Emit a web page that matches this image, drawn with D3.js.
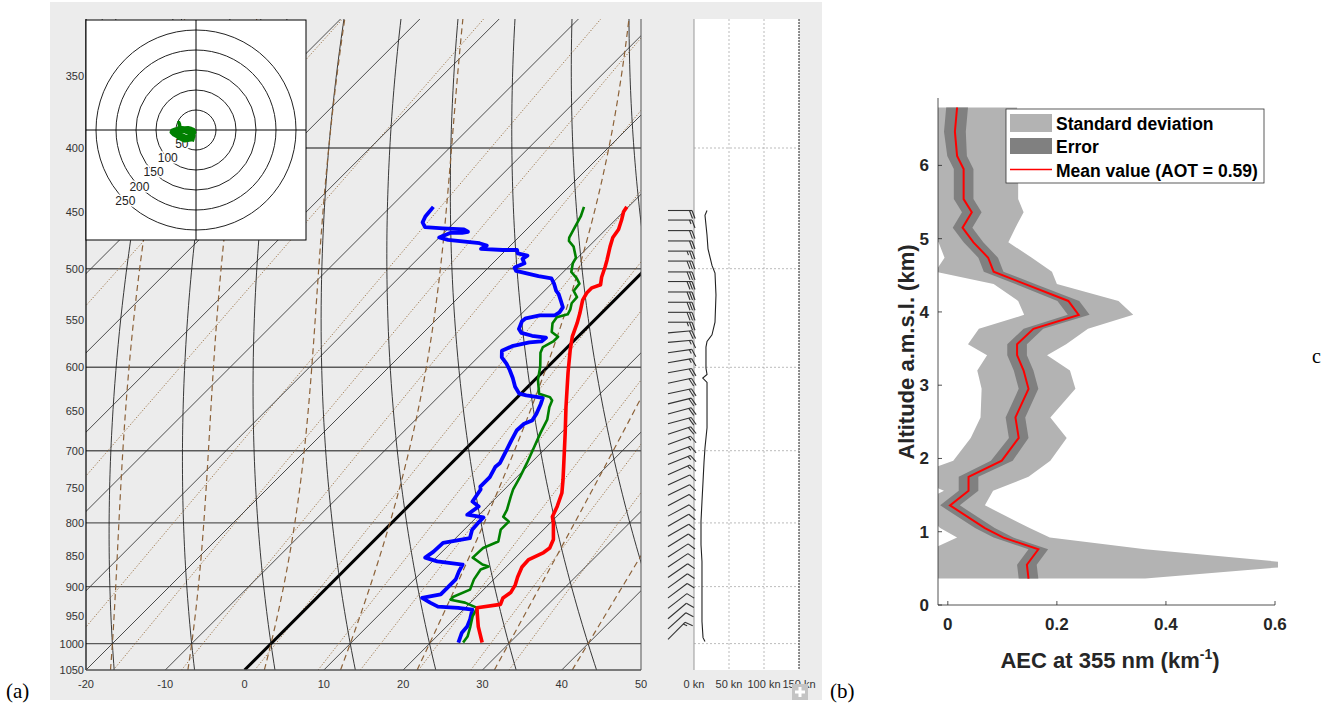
<!DOCTYPE html>
<html><head><meta charset="utf-8">
<script src="https://cdn.jsdelivr.net/npm/d3@7"></script>
<style>
body{margin:0;background:#fff;}
svg{display:block;font-family:"Liberation Sans",Arial,sans-serif;}
</style></head>
<body><svg id="c" width="1333" height="709"></svg>
<script>
// ---------------- DATA ----------------
// Skew-T sounding (pressure hPa, temperature degC)
const tempP = [998,969,943,936,930,919,910,897,884,868,856,845,838,825,800,791,776,757,739,721,677,646,606,581,567,553,543,530,523,518,515,508,498,492,480,472,465,457,450,446];
const tempT = [26.5,24.0,22.0,21.5,24.0,23.5,23.8,23.4,22.7,22.0,21.9,22.9,23.1,22.5,20.4,19.5,18.8,17.7,16.2,14.6,10.5,7.4,3.3,0.7,-0.7,-1.8,-2.7,-4.0,-4.4,-4.4,-3.7,-4.5,-5.4,-6.0,-7.3,-8.1,-8.4,-9.2,-10.0,-10.2];

const dewP = [998,980,969,957,939,936,934,927,919,913,902,888,875,864,859,853,844,830,823,810,800,792,788,776,769,752,748,735,721,716,699,687,674,666,662,654,642,635,634,632,630,622,612,603,596,589,582,577,573,572,568,566,563,559,551,548,545,545,542,537,531,524,521,514,509,507,502,499,495,491,488,486,483,483,482,479,477,474,472,468,468,467,465,464,463,459,454,446];
const dewT = [23.5,22.7,22.6,22.1,21.1,19.1,16.4,14.9,13.3,15.2,15.2,15.2,14.6,14.2,10.6,8.6,8.9,9.0,11.8,11.0,10.9,10.9,8.5,8.9,7.5,7.0,6.6,6.6,6.0,6.1,5.3,4.7,4.1,4.2,4.8,4.5,3.8,3.3,2.6,0.9,-0.2,-1.6,-3.0,-4.4,-5.6,-7.0,-7.8,-7.1,-5.4,-4.0,-3.9,-5.9,-7.6,-8.4,-9.0,-8.9,-7.5,-5.6,-5.4,-5.6,-6.6,-7.8,-8.5,-9.7,-10.7,-12.6,-16.1,-16.7,-16.0,-16.8,-16.6,-18.1,-18.6,-20.4,-23.3,-23.0,-24.2,-28.6,-30.0,-29.2,-27.7,-27.1,-27.9,-30.7,-33.1,-34.0,-34.4,-34.6];

const wetP = [998,987,969,951,936,927,922,917,905,888,872,867,864,853,838,828,810,798,791,781,762,752,735,716,699,677,661,646,638,634,630,614,599,584,578,572,567,562,553,547,544,539,533,527,521,514,509,503,495,490,480,475,472,463,454,446];
const wetT = [24.1,23.9,23.0,22.0,21.5,19.3,17.1,17.1,18.3,17.5,17.1,17.7,16.7,14.6,14.7,15.8,14.6,14.6,13.3,12.9,11.7,11.1,10.4,9.5,8.6,7.4,6.6,5.3,4.8,4.1,2.3,0.4,-1.0,-2.7,-3.1,-2.5,-2.5,-3.9,-4.9,-5.1,-4.1,-4.4,-5.0,-5.1,-6.3,-6.5,-7.5,-9.0,-9.9,-10.2,-11.9,-13.2,-13.6,-14.2,-14.8,-15.6];

// Hodograph trace (u, v in hodograph units)
const hodoU = [-4,-10,-16,-24,-32,-40,-48,-56,-62,-60,-52,-44,-36,-28,-20,-12,-6,-3,-8,-16,-24,-32,-40,-48,-56,-60,-54,-46,-42,-41,-43,-40,-34,-26,-18,-10,-5,-7,-14,-22,-30,-38,-46,-54,-58,-50,-42,-34,-26,-18,-10,-6,-12,-20,-28,-36,-44,-50,-44,-36,-28,-20,-12,-6,-10,-18,-26,-34,-42,-50,-56,-48,-40,-32,-24,-16,-8];
const hodoV = [-26,-24,-25,-23,-21,-19,-16,-12,-6,-1,2,4,6,5,6,4,1,-6,-12,-15,-17,-16,-13,-10,-7,-3,0,3,7,14,19,8,2,-2,-4,-8,-14,-20,-23,-25,-22,-19,-15,-11,-6,-3,-1,-2,-5,-9,-13,-18,-24,-26,-27,-24,-20,-14,-8,-4,-1,0,-3,-8,-16,-21,-23,-20,-16,-12,-8,-5,-9,-13,-17,-20,-22];

// Wind speed profile (hPa, kn)
const spdP = [996,989,960,913,859,833,798,769,741,715,696,671,647,617,612,608,601,578,572,565,552,525,504,497,482,470,453,449];
const spdK = [15.7,12.9,11.4,11.4,11.4,10,10,11.4,12.9,14.3,15.7,18.6,18.6,18.6,12.5,18.6,17.1,17.1,18.6,25.7,30,31.4,30,25.7,20,18.6,15.7,18.6];

// Wind barbs (hPa, direction deg, speed kn)
const barbP = [449,457,466,475,484,493,503,512,522,532,542,552,563,573,584,595,606,618,630,642,654,666,679,692,705,718,732,746,760,775,790,805,820,836,852,868,885,902,919,937,955,973,992];
const barbD = [90,90,90,90,90,90,90,90,90,90,90,90,85,85,82,80,80,78,78,76,75,75,72,70,70,68,66,65,64,62,62,60,60,58,57,56,55,54,53,52,50,48,45];
const barbS = [18,16,18,20,25,30,31,31,31,30,30,26,19,17,17,17,18,19,19,19,19,19,18,16,15,14,13,12,11,11,10,10,10,11,11,11,11,11,11,11,11,12,15];

// Axis tick labels
const pLabels = [350,400,450,500,550,600,650,700,750,800,850,900,950,1000,1050];
const isobars = [400,500,600,700,800,900,1000];
const tLabels = [-20,-10,0,10,20,30,40,50];
const spdTicks = [0,50,100,150];
const hodoRings = [50,100,150,200,250];
const mixRatios = [0.01,0.1,0.5,1,2,4,7,10,16,24,32];
const moistThetaW = [-20,-10,0,10,20,30,40];

// Lidar AEC profile (km, km^-1)
const alt  = [0.36,0.55,0.76,0.92,1.05,1.36,1.56,1.75,1.97,2.28,2.56,2.95,3.2,3.41,3.56,3.77,3.96,4.15,4.38,4.55,4.74,4.95,5.15,5.36,5.54,5.95,6.13,6.46,6.79];
const aecMean = [0.148,0.145,0.166,0.102,0.068,0.004,0.038,0.038,0.099,0.130,0.124,0.148,0.139,0.127,0.127,0.157,0.240,0.221,0.142,0.084,0.074,0.047,0.027,0.044,0.029,0.029,0.017,0.013,0.017];
const aecErr = [0.018,0.018,0.018,0.018,0.018,0.018,0.018,0.018,0.02,0.018,0.018,0.018,0.018,0.018,0.018,0.018,0.02,0.02,0.018,0.018,0.018,0.018,0.018,0.018,0.018,0.018,0.018,0.02,0.02];
const aecSd = [0.214,0.52,0.196,0.085,0.082,0.064,0.045,0.11,0.089,0.088,0.064,0.086,0.085,0.055,0.09,0.1,0.1,0.092,0.058,0.107,0.08,0.064,0.097,0.095,0.10,0.10,0.11,0.115,0.11];
const aecXTicks = [0,0.2,0.4,0.6];
const aecYTicks = [0,1,2,3,4,5,6];

// ---------------- DRAW ----------------
const svg = d3.select("#c");

// ===== Panel (a): skew-T =====
svg.append("rect").attr("x",50).attr("y",2).attr("width",772).attr("height",698).attr("fill","#ececec");

const yP = d3.scaleLog().domain([1050,400]).range([670,148]);
const xT = d3.scaleLinear().domain([-20,50]).range([86,641]);
const pTop = yP.invert(19);
const sx = (T,p) => xT(T) + (670 - yP(p));

const defs = svg.append("defs");
defs.append("clipPath").attr("id","skclip").append("rect").attr("x",86).attr("y",19).attr("width",555).attr("height",651);
defs.append("clipPath").attr("id","aclip").append("rect").attr("x",938).attr("y",96).attr("width",340).attr("height",509);

const sk = svg.append("g").attr("clip-path","url(#skclip)");
const lineTP = d3.line().x(d=>sx(d.T,d.p)).y(d=>yP(d.p));
const pSamp = d3.range(0,101).map(i => 1050*Math.pow(pTop/1050, i/100));

sk.selectAll(".isob").data(isobars).join("line")
  .attr("x1",86).attr("x2",641).attr("y1",d=>yP(d)).attr("y2",d=>yP(d))
  .attr("stroke","#5a5a5a").attr("stroke-width",1.4);

const Rd=287.04, cp=1005.7, Lv=2.501e6, eps=0.622;
const es = Tc => 6.112*Math.exp(17.67*Tc/(Tc+243.5));
const tdFromE = e => { const l=Math.log(e/6.112); return 243.5*l/(17.67-l); };
mixRatios.forEach(w=>{
  const pts = pSamp.map(p=>{ const e = (w/1000)*p/(eps + w/1000); return {p, T: tdFromE(e)}; });
  sk.append("path").attr("d",lineTP(pts)).attr("fill","none")
    .attr("stroke","#9c7448").attr("stroke-width",1).attr("stroke-dasharray","1.2,1.8");
});

const isoT = d3.range(-110,51,10);
sk.selectAll(".isot").data(isoT).join("line")
  .attr("x1",d=>sx(d,1050)).attr("y1",670).attr("x2",d=>sx(d,pTop)).attr("y2",19)
  .attr("stroke",d=>d===0?"#000":"#3a3a3a").attr("stroke-width",d=>d===0?3:0.9);

d3.range(-30,101,10).forEach(th=>{
  const thK = th+273.15;
  const pts = pSamp.map(p=>({p, T: thK*Math.pow(p/1000,0.2857)-273.15}));
  sk.append("path").attr("d",lineTP(pts)).attr("fill","none").attr("stroke","#222").attr("stroke-width",0.9);
});

function rsat(Tc,p){const e=es(Tc);return eps*e/(p-e);}
function dTdp(TK,p){const r=rsat(TK-273.15,p);return (Rd*TK+Lv*r)/(p*(cp+Lv*Lv*r*eps/(Rd*TK*TK)));}
function moist(T0){
  const down=[]; let T=T0+273.15, p=1000, h=5;
  while(p<1050){const k1=dTdp(T,p);const k2=dTdp(T+k1*h/2,p+h/2);T+=k2*h;p+=h;down.push({p,T:T-273.15});}
  const pts = down.reverse(); pts.push({p:1000,T:T0});
  T=T0+273.15; p=1000; h=-4;
  while(p>pTop-5){const k1=dTdp(T,p);const k2=dTdp(T+k1*h/2,p+h/2);T+=k2*h;p+=h;pts.push({p,T:T-273.15});}
  return pts;
}
moistThetaW.forEach(t0=>{
  sk.append("path").attr("d",lineTP(moist(t0))).attr("fill","none")
    .attr("stroke","#8c6239").attr("stroke-width",1.2).attr("stroke-dasharray","6,4");
});

const toPts = (P,T) => P.map((p,i)=>({p,T:T[i]}));
sk.append("path").attr("d",lineTP(toPts(dewP,dewT))).attr("fill","none").attr("stroke","#0000ff").attr("stroke-width",3.8).attr("stroke-linejoin","round");
sk.append("path").attr("d",lineTP(toPts(wetP,wetT))).attr("fill","none").attr("stroke","#008000").attr("stroke-width",2.6).attr("stroke-linejoin","round");
sk.append("path").attr("d",lineTP(toPts(tempP,tempT))).attr("fill","none").attr("stroke","#ff0000").attr("stroke-width",3.6).attr("stroke-linejoin","round");

svg.append("line").attr("x1",86).attr("x2",86).attr("y1",19).attr("y2",670).attr("stroke","#000").attr("stroke-width",1.2);
svg.append("line").attr("x1",86).attr("x2",641).attr("y1",670).attr("y2",670).attr("stroke","#555").attr("stroke-width",1.4);
svg.append("line").attr("x1",641).attr("x2",641).attr("y1",19).attr("y2",670).attr("stroke","#555").attr("stroke-width",1);

svg.selectAll(".pl").data(pLabels).join("text")
  .attr("x",84).attr("y",d=>yP(d)+4).attr("text-anchor","end").attr("font-size",11).attr("fill","#333").text(d=>d);
svg.selectAll(".tl").data(tLabels).join("text")
  .attr("x",d=>xT(d)).attr("y",688).attr("text-anchor","middle").attr("font-size",11).attr("fill","#333").text(d=>d);

// hodograph inset
const hc = {x:196,y:130};
const hr = d3.scaleLinear().domain([0,50]).range([0,20]);
svg.append("rect").attr("x",86).attr("y",20).attr("width",220).attr("height",220).attr("fill","#fff").attr("stroke","#000").attr("stroke-width",1);
svg.selectAll(".ring").data(hodoRings).join("circle")
  .attr("cx",hc.x).attr("cy",hc.y).attr("r",d=>hr(d)).attr("fill","none").attr("stroke","#222").attr("stroke-width",1);
svg.append("line").attr("x1",86).attr("x2",306).attr("y1",hc.y).attr("y2",hc.y).attr("stroke","#000");
svg.append("line").attr("x1",hc.x).attr("x2",hc.x).attr("y1",20).attr("y2",240).attr("stroke","#000");
svg.selectAll(".rl").data(hodoRings).join("text")
  .attr("x",d=>hc.x-hr(d)*0.707).attr("y",d=>hc.y+hr(d)*0.707+4).attr("text-anchor","middle")
  .attr("font-size",12).attr("fill","#222").attr("stroke","#fff").attr("stroke-width",3).attr("paint-order","stroke").text(d=>d);
const hodoLine = d3.line().x((d,i)=>hc.x+hr(hodoU[i])).y((d,i)=>hc.y-hr(hodoV[i]));
svg.append("path").attr("d",hodoLine(hodoU)).attr("fill","none").attr("stroke","#008000").attr("stroke-width",3.4).attr("stroke-linejoin","round");

// wind speed panel
const xS = d3.scaleLinear().domain([0,150]).range([694,799]);
svg.append("rect").attr("x",694).attr("y",19).attr("width",105).attr("height",651).attr("fill","#fff");
svg.selectAll(".sg").data([50,100]).join("line").attr("x1",d=>xS(d)).attr("x2",d=>xS(d)).attr("y1",19).attr("y2",670)
  .attr("stroke","#aaa").attr("stroke-width",0.8).attr("stroke-dasharray","2,2");
svg.selectAll(".sh").data(isobars).join("line").attr("x1",694).attr("x2",799).attr("y1",d=>yP(d)).attr("y2",d=>yP(d))
  .attr("stroke","#aaa").attr("stroke-width",0.8).attr("stroke-dasharray","2,2");
svg.append("line").attr("x1",694).attr("x2",694).attr("y1",19).attr("y2",670).attr("stroke","#999").attr("stroke-width",1);
svg.append("line").attr("x1",799).attr("x2",799).attr("y1",19).attr("y2",670).attr("stroke","#222").attr("stroke-width",1).attr("stroke-dasharray","2,1");
svg.append("path").attr("d",d3.line().x((d,i)=>xS(spdK[i])).y(d=>yP(d))(spdP)).attr("fill","none").attr("stroke","#222").attr("stroke-width",1.1);
svg.selectAll(".stl").data(spdTicks).join("text").attr("x",d=>xS(d)).attr("y",688).attr("text-anchor","middle")
  .attr("font-size",11).attr("fill","#333").text(d=>d+" kn");

// wind barbs
const bg = svg.append("g").attr("stroke","#333").attr("stroke-width",1.1).attr("fill","none");
barbP.forEach((p,i)=>{
  const x0=668, y0=yP(p), d=barbD[i]*Math.PI/180, L=24;
  const s=[Math.sin(d),-Math.cos(d)], n=[-s[1],s[0]];
  const tx=x0+s[0]*L, ty=y0+s[1]*L;
  bg.append("line").attr("x1",x0).attr("y1",y0).attr("x2",tx).attr("y2",ty);
  let spd=barbS[i], off=0;
  while(spd>=7.5){ const bx=tx-s[0]*off, by=ty-s[1]*off;
    bg.append("line").attr("x1",bx).attr("y1",by).attr("x2",bx+n[0]*8+s[0]*3).attr("y2",by+n[1]*8+s[1]*3); spd-=10; off+=2.5; }
  if(spd>=2.5){ const bx=tx-s[0]*off, by=ty-s[1]*off;
    bg.append("line").attr("x1",bx).attr("y1",by).attr("x2",bx+n[0]*4+s[0]*1.5).attr("y2",by+n[1]*4+s[1]*1.5); }
});

svg.append("rect").attr("x",792).attr("y",684).attr("width",16).attr("height",16).attr("fill","#c4c4c4");
svg.append("path").attr("d","M800,687V697M795,692H805").attr("stroke","#fff").attr("stroke-width",3);

svg.append("text").attr("x",6).attr("y",698).attr("font-family","'Liberation Serif','DejaVu Serif',serif").attr("font-size",21).text("(a)");
svg.append("text").attr("x",830).attr("y",698).attr("font-family","'Liberation Serif','DejaVu Serif',serif").attr("font-size",21).text("(b)");
svg.append("text").attr("x",1312).attr("y",363).attr("font-family","'Liberation Serif','DejaVu Serif',serif").attr("font-size",20).text("c");

// ===== Panel (b): lidar AEC =====
const xA = d3.scaleLinear().domain([-0.018,0.6]).range([938,1275]);
const yA = d3.scaleLinear().domain([0,6.92]).range([605,98]);
const ga = svg.append("g").attr("clip-path","url(#aclip)");
const prof = alt.map((a,i)=>({a,m:aecMean[i],e:aecErr[i],s:aecSd[i]}));
ga.append("path").attr("d",d3.area().y(d=>yA(d.a)).x0(d=>xA(d.m-d.s)).x1(d=>xA(d.m+d.s))(prof)).attr("fill","#b3b3b3");
ga.append("path").attr("d",d3.area().y(d=>yA(d.a)).x0(d=>xA(d.m-d.e)).x1(d=>xA(d.m+d.e))(prof)).attr("fill","#808080");
ga.append("path").attr("d",d3.line().y(d=>yA(d.a)).x(d=>xA(d.m))(prof)).attr("fill","none").attr("stroke","#ff0000").attr("stroke-width",2);

const ax = svg.append("g").attr("stroke","#262626").attr("stroke-width",0.8);
ax.append("line").attr("x1",938).attr("x2",1275).attr("y1",605).attr("y2",605);
ax.append("line").attr("x1",938).attr("x2",938).attr("y1",98).attr("y2",605);
ax.selectAll(".xt").data(aecXTicks).join("line").attr("x1",d=>xA(d)).attr("x2",d=>xA(d)).attr("y1",605).attr("y2",601);
ax.selectAll(".yt").data(aecYTicks).join("line").attr("x1",938).attr("x2",942).attr("y1",d=>yA(d)).attr("y2",d=>yA(d));
svg.selectAll(".xtl").data(aecXTicks).join("text").attr("x",d=>xA(d)).attr("y",630).attr("text-anchor","middle")
  .attr("font-size",17).attr("font-weight","bold").attr("fill","#262626").text(d=>d===0?"0":d.toFixed(1));
svg.selectAll(".ytl").data(aecYTicks).join("text").attr("x",929).attr("y",d=>yA(d)+6).attr("text-anchor","end")
  .attr("font-size",17).attr("font-weight","bold").attr("fill","#262626").text(d=>d);
svg.append("text").attr("transform","translate(914,352) rotate(-90)").attr("text-anchor","middle")
  .attr("font-size",22).attr("font-weight","bold").attr("fill","#262626").text("Altitude a.m.s.l. (km)");
const xl = svg.append("text").attr("x",1110).attr("y",668).attr("text-anchor","middle")
  .attr("font-size",22).attr("font-weight","bold").attr("fill","#262626");
xl.append("tspan").text("AEC at 355 nm (km");
xl.append("tspan").attr("dy",-9).attr("font-size",14).text("-1");
xl.append("tspan").attr("dy",9).text(")");

const lg = svg.append("g");
lg.append("rect").attr("x",1006).attr("y",109).attr("width",258).attr("height",74).attr("fill","#fff").attr("stroke","#333").attr("stroke-width",0.8);
lg.append("rect").attr("x",1010).attr("y",114).attr("width",42).attr("height",18).attr("fill","#b3b3b3");
lg.append("rect").attr("x",1010).attr("y",138).attr("width",42).attr("height",16).attr("fill","#808080");
lg.append("line").attr("x1",1010).attr("x2",1052).attr("y1",169.5).attr("y2",169.5).attr("stroke","#ff0000").attr("stroke-width",1.5);
[["Standard deviation",129.5],["Error",153],["Mean value (AOT = 0.59)",176.5]].forEach(([t,y])=>{
  lg.append("text").attr("x",1056).attr("y",y).attr("font-size",17.5).attr("font-weight","bold").attr("fill","#000").text(t);
});
</script>
</body></html>
